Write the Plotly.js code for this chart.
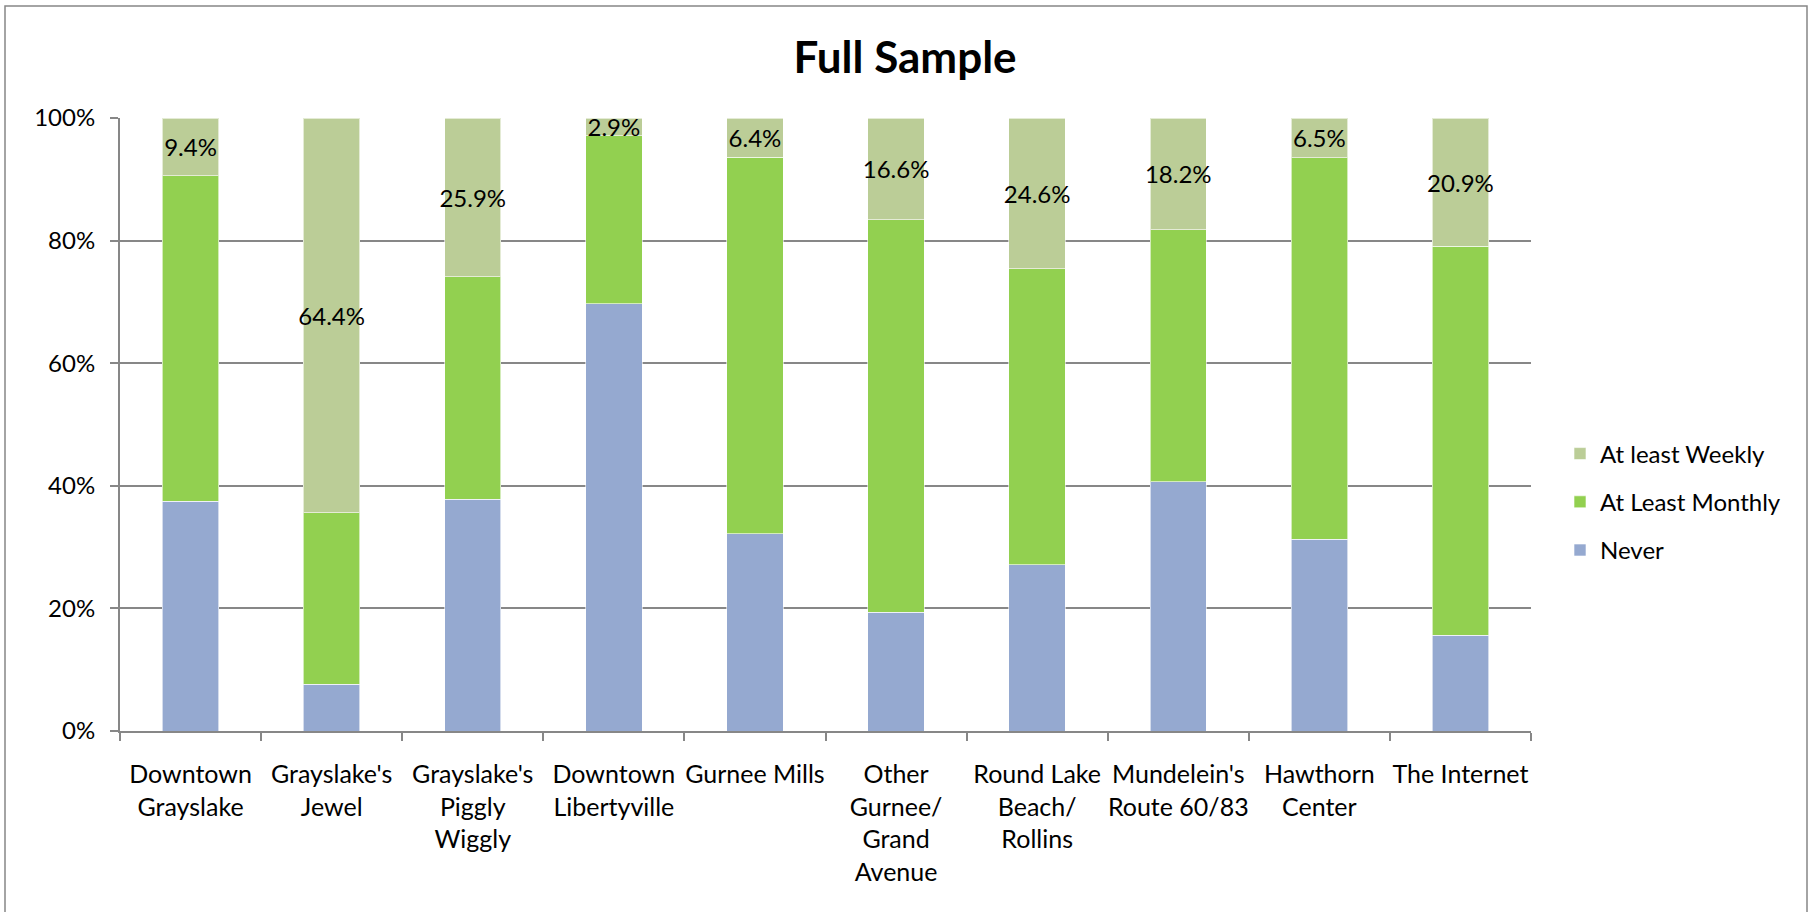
<!DOCTYPE html>
<html>
<head>
<meta charset="utf-8">
<script src="https://cdn.plot.ly/plotly-3.0.1.min.js"></script>
<style>
  html, body { margin: 0; padding: 0; background: #fff; }
  #plotDiv { width: 1810px; height: 912px; }
</style>
</head>
<body>
<div id="plotDiv"></div>
<script>
"use strict";

// Categories (tick labels) and series values, in percent
const categories = [
    "Downtown<br>Grayslake",
    "Grayslake's<br>Jewel",
    "Grayslake's<br>Piggly<br>Wiggly",
    "Downtown<br>Libertyville",
    "Gurnee Mills",
    "Other<br>Gurnee/<br>Grand<br>Avenue",
    "Round Lake<br>Beach/<br>Rollins",
    "Mundelein's<br>Route 60/83",
    "Hawthorn<br>Center",
    "The Internet"
];
const neverPct   = [37.5, 7.6, 37.8, 69.7, 32.2, 19.4, 27.1, 40.7, 31.3, 15.6];
const monthlyPct = [53.1, 28.0, 36.3, 27.4, 61.4, 64.0, 48.3, 41.1, 62.2, 63.5];
const weeklyPct  = [9.4, 64.4, 25.9, 2.9, 6.4, 16.6, 24.6, 18.2, 6.5, 20.9];
const yTicks = [0, 20, 40, 60, 80, 100];

// Plot area in pixels
const W = 1810, H = 912;
const PLOT_L = 120, PLOT_R = 1531, PLOT_T = 118, PLOT_B = 731;
const AXIS_GRAY = '#878787';
const FONT = 'Lato, "Open Sans", sans-serif';

// Convert pixel positions to paper coordinates
function px2x(px) { return (px - PLOT_L) / (PLOT_R - PLOT_L); }
function py2y(py) { return (PLOT_B - py) / (PLOT_B - PLOT_T); }

const barLine = { color: 'rgba(255,255,255,0.6)', width: 1 };

const traces = [
    {
        x: categories,
        y: neverPct,
        name: 'Never',
        type: 'bar',
        legendgroup: 'n',
        legendrank: 3,
        marker: { color: '#95A9D0', line: barLine },
        hoverinfo: 'skip'
    },
    {
        x: categories,
        y: monthlyPct,
        name: 'At Least Monthly',
        type: 'bar',
        legendgroup: 'm',
        legendrank: 2,
        marker: { color: '#92D050', line: barLine },
        hoverinfo: 'skip'
    },
    {
        x: categories,
        y: weeklyPct,
        name: 'At least Weekly',
        type: 'bar',
        legendgroup: 'w',
        legendrank: 1,
        marker: { color: '#BBCD97', line: barLine },
        text: weeklyPct.map(v => v.toFixed(1) + '%'),
        textposition: 'inside',
        insidetextanchor: 'middle',
        constraintext: 'none',
        textangle: 0,
        textfont: { family: FONT, size: 24, color: '#000' },
        cliponaxis: false,
        hoverinfo: 'skip'
    }
];

const layout = {
    width: W,
    height: H,
    margin: { l: PLOT_L, r: W - PLOT_R, t: PLOT_T, b: H - PLOT_B, pad: 0 },
    paper_bgcolor: '#fff',
    plot_bgcolor: '#fff',
    font: { family: FONT, size: 24, color: '#000' },
    barmode: 'stack',
    bargap: 0.6,
    showlegend: true,
    hovermode: false,
    title: {
        text: 'Full Sample',
        font: { family: FONT, size: 44, color: '#000', weight: 'bold' },
        x: 0.5,
        xref: 'container',
        xanchor: 'center',
        y: 1 - 58 / H,
        yref: 'container',
        yanchor: 'middle'
    },
    xaxis: {
        type: 'category',
        showline: true,
        linecolor: AXIS_GRAY,
        linewidth: 2,
        ticks: 'outside',
        tickson: 'boundaries',
        ticklen: 8,
        tickwidth: 2,
        tickcolor: AXIS_GRAY,
        tickangle: 0,
        showgrid: false,
        zeroline: false,
        tickfont: { family: FONT, size: 25, color: '#000' },
        ticklabelstandoff: 20
    },
    yaxis: {
        range: [0, 100.001],
        tickvals: yTicks,
        ticktext: yTicks.map(v => v + '%'),
        showline: true,
        linecolor: AXIS_GRAY,
        linewidth: 2,
        ticks: 'outside',
        ticklen: 8,
        tickwidth: 2,
        tickcolor: AXIS_GRAY,
        showgrid: true,
        gridcolor: AXIS_GRAY,
        gridwidth: 2,
        zeroline: false,
        tickfont: { family: FONT, size: 24, color: '#000' },
        ticklabelstandoff: 10
    },
    legend: {
        traceorder: 'grouped',
        x: px2x(1560),
        xanchor: 'left',
        y: py2y(502),
        yanchor: 'middle',
        tracegroupgap: 14,
        font: { family: FONT, size: 24, color: '#000' },
        bgcolor: 'rgba(0,0,0,0)'
    },
    shapes: [
        // Outer chart border
        {
            type: 'rect',
            xref: 'paper',
            yref: 'paper',
            x0: px2x(5),
            x1: px2x(1807),
            y0: py2y(930),
            y1: py2y(6),
            line: { color: AXIS_GRAY, width: 1.5 },
            fillcolor: 'rgba(0,0,0,0)',
            layer: 'below'
        }
    ]
};

Plotly.newPlot('plotDiv', traces, layout, { displayModeBar: false, staticPlot: true });
</script>
</body>
</html>
